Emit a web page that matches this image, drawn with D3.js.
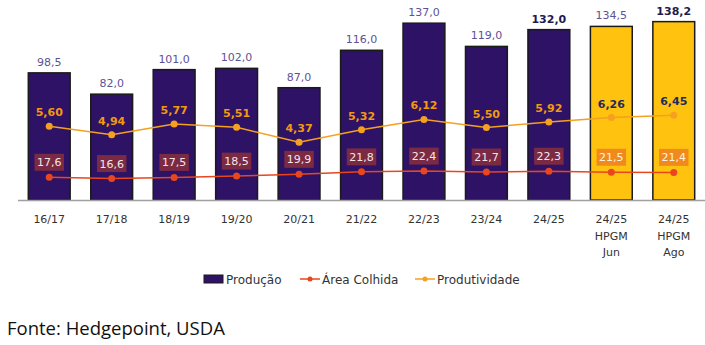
<!DOCTYPE html>
<html><head><meta charset="utf-8">
<script src="https://cdn.jsdelivr.net/npm/d3@7"></script>
<style>body{margin:0;background:#fff}svg{display:block}</style>
</head><body>
<svg id="c" width="705" height="345"></svg>
<script>
const categories = ["16/17","17/18","18/19","19/20","20/21","21/22","22/23","23/24","24/25","24/25\nHPGM\nJun","24/25\nHPGM\nAgo"];
const producao = [98.5,82.0,101.0,102.0,87.0,116.0,137.0,119.0,132.0,134.5,138.2];
const areaColhida = [17.6,16.6,17.5,18.5,19.9,21.8,22.4,21.7,22.3,21.5,21.4];
const produtividade = [5.60,4.94,5.77,5.51,4.37,5.32,6.12,5.50,5.92,6.26,6.45];
const projected = [false,false,false,false,false,false,false,false,false,true,true];
const boldProd = [false,false,false,false,false,false,false,false,true,false,true];

const svg = d3.select("#c");
const F = "'DejaVu Sans', sans-serif";
const fmt = (v,d)=> v.toFixed(d).replace(".",",");

const x = d3.scaleBand().domain(d3.range(categories.length)).range([18,705]).paddingInner(0.33).paddingOuter(0.165);
const y = d3.scaleLinear().domain([0,150]).range([200,6.4]);
const yp = d3.scaleLinear().domain([0,10]).range([199,69]);
const cx = i => x(i)+x.bandwidth()/2;

// bars
svg.selectAll("rect.bar").data(producao).join("rect")
  .attr("x",(d,i)=>x(i)).attr("width",x.bandwidth())
  .attr("y",d=>y(d)).attr("height",d=>y(0)-y(d))
  .attr("fill",(d,i)=>projected[i]?"#FFC20E":"#2E1266")
  .attr("stroke","#1a1a1a").attr("stroke-width",1.5);

// axis line
svg.append("line").attr("x1",18).attr("x2",705).attr("y1",200.5).attr("y2",200.5).attr("stroke","#a0a0a0").attr("stroke-width",1.5);

// x axis labels
const xa = svg.append("g").attr("transform","translate(0,200)")
  .call(d3.axisBottom(x).tickSize(0).tickFormat(""));
xa.select(".domain").remove();
categories.forEach((c,i)=>{
  const t = svg.append("text").attr("x",cx(i)).attr("y",223).attr("text-anchor","middle")
    .attr("font-family",F).attr("font-size",11).attr("fill","#333");
  c.split("\n").forEach((s,j)=>t.append("tspan").attr("x",cx(i)).attr("dy",j?16.5:0).text(s));
});

// production labels
svg.selectAll("text.pl").data(producao).join("text")
  .attr("x",(d,i)=>cx(i)).attr("y",d=>y(d)-7).attr("text-anchor","middle")
  .attr("font-family",F).attr("font-size",11)
  .attr("font-weight",(d,i)=>boldProd[i]?"bold":"normal")
  .attr("fill",(d,i)=>boldProd[i]?"#1f1a4d":"#5e5296")
  .text(d=>fmt(d,1));

// area line
const lineA = d3.line().x((d,i)=>cx(i)).y(d=>y(d));
svg.append("path").datum(areaColhida).attr("d",lineA).attr("fill","none").attr("stroke","#E8461E").attr("stroke-width",1.5);
svg.selectAll("circle.a").data(areaColhida).join("circle").attr("cx",(d,i)=>cx(i)).attr("cy",d=>y(d)).attr("r",3.5).attr("fill","#E8461E");

// productivity line
const lineP = d3.line().x((d,i)=>cx(i)).y(d=>yp(d));
svg.append("path").datum(produtividade).attr("d",lineP).attr("fill","none").attr("stroke","#F5A01F").attr("stroke-width",1.5);
svg.selectAll("circle.p").data(produtividade).join("circle").attr("cx",(d,i)=>cx(i)).attr("cy",d=>yp(d)).attr("r",3.5).attr("fill","#F5A01F");

// productivity labels
svg.selectAll("text.pp").data(produtividade).join("text")
  .attr("x",(d,i)=>cx(i)).attr("y",d=>yp(d)-10).attr("text-anchor","middle")
  .attr("font-family",F).attr("font-size",11).attr("font-weight","bold")
  .attr("fill",(d,i)=>projected[i]?"#1f2a5c":"#F29A0E")
  .text(d=>fmt(d,2));

// area labels with boxes
areaColhida.forEach((d,i)=>{
  const g = svg.append("g");
  const t = g.append("text").attr("x",cx(i)).attr("y",y(d)-11).attr("text-anchor","middle")
    .attr("font-family",F).attr("font-size",11).attr("fill",projected[i]?"#fff3e0":"#f3e6ea").text(fmt(d,1));
  const w = t.node().getComputedTextLength()+5;
  g.insert("rect","text").attr("x",cx(i)-w/2).attr("y",y(d)-23.5).attr("width",w).attr("height",17)
    .attr("fill",projected[i]?"#F08A1E":"#7B2A44");
});

// legend
const lg = svg.append("g").attr("font-family",F).attr("font-size",12).attr("font-style","normal").attr("fill","#333");
lg.append("rect").attr("x",204).attr("y",275).attr("width",19).attr("height",8).attr("fill","#2E1266").attr("stroke","#1a1a1a").attr("stroke-width",1);
lg.append("text").attr("x",226).attr("y",283.5).text("Produção");
lg.append("line").attr("x1",300).attr("x2",320).attr("y1",279).attr("y2",279).attr("stroke","#E8461E").attr("stroke-width",1.5);
lg.append("circle").attr("cx",310).attr("cy",279).attr("r",2.5).attr("fill","#E8461E");
lg.append("text").attr("x",322).attr("y",283.5).text("\u00C1rea Colhida");
lg.append("line").attr("x1",415).attr("x2",435).attr("y1",279).attr("y2",279).attr("stroke","#F5A01F").attr("stroke-width",1.5);
lg.append("circle").attr("cx",425).attr("cy",279).attr("r",2.5).attr("fill","#F5A01F");
lg.append("text").attr("x",437).attr("y",283.5).text("Produtividade");

// source
svg.append("text").attr("x",7).attr("y",335).attr("font-family","'Open Sans', sans-serif").attr("font-size",18.5).attr("fill","#111").text("Fonte: Hedgepoint, USDA");
</script>
</body></html>
